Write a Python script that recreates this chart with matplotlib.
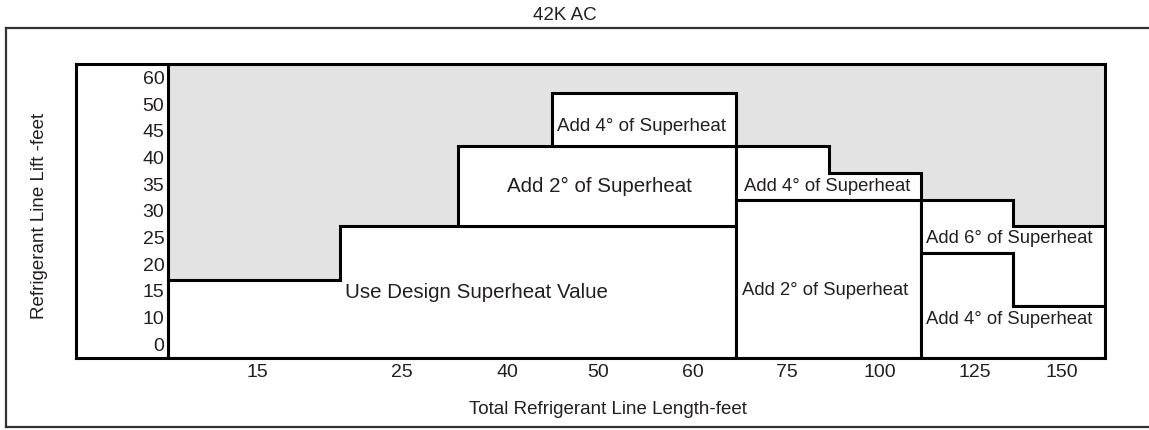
import matplotlib
matplotlib.use("Agg")
import matplotlib.pyplot as plt
from matplotlib.lines import Line2D

plt.rcParams['font.family'] = ['Liberation Sans', 'DejaVu Sans']

# ---- data (diagram in column units / row-index units) ----
title = "42K AC"
x_label = "Total Refrigerant Line Length-feet"
y_label = "Refrigerant Line Lift -feet"
x_tick_labels = ['15', '25', '40', '50', '60', '75', '100', '125', '150']
x_tick_pos = [0.95, 2.50, 3.62, 4.59, 5.60, 6.61, 7.60, 8.61, 9.54]
y_tick_labels = ['0', '10', '15', '20', '25', '30', '35', '40', '45', '50', '60']

Y_BOT = -0.42
Y_TOP = 10.58
X_RIGHT = 10.0

# zones: list of segments (x0, x1, y0, y1)
zone_use_design = [(0.0, 1.84, Y_BOT, 2.5), (1.84, 6.06, Y_BOT, 4.5)]
zone_add2_mid = [(3.10, 6.06, 4.5, 7.5)]
zone_add4_top = [(4.10, 6.06, 7.5, 9.5)]
zone_add4_right = [(6.06, 7.05, 5.5, 7.5), (7.05, 8.04, 5.5, 6.5)]
zone_add2_right = [(6.06, 8.04, Y_BOT, 5.5)]
zone_add6 = [(8.04, 9.02, 3.5, 5.5), (9.02, X_RIGHT, 1.5, 4.5)]
zone_add4_far = [(8.04, 9.02, Y_BOT, 3.5), (9.02, X_RIGHT, Y_BOT, 1.5)]

zones = [zone_use_design, zone_add2_mid, zone_add4_top, zone_add4_right,
         zone_add2_right, zone_add6, zone_add4_far]
zone_labels = ["Use Design Superheat Value", "Add 2° of Superheat",
               "Add 4° of Superheat", "Add 4° of Superheat",
               "Add 2° of Superheat", "Add 6° of Superheat",
               "Add 4° of Superheat"]
label_x = [3.29, 4.60, 5.05, 7.03, 7.01, 8.98, 8.98]
label_y = [2.0, 6.0, 8.24, 6.0, 2.1, 4.04, 1.01]
label_size = [14.8, 14.8, 13.5, 13.3, 13.3, 13.3, 13.3]

TXT = '#231f20'
GRAY = '#e3e3e3'
LW = 2.2

W, H = 1149, 430
fig = plt.figure(figsize=(W / 100, H / 100), dpi=100)

# outer frame
fc = '#363233'
fig.add_artist(Line2D([6 / W, 1.0], [1 - 28 / H, 1 - 28 / H], transform=fig.transFigure, color=fc, lw=1.6))
fig.add_artist(Line2D([6 / W, 1.0], [1 - 427 / H, 1 - 427 / H], transform=fig.transFigure, color=fc, lw=1.6))
fig.add_artist(Line2D([6 / W, 6 / W], [1 - 28 / H, 1 - 427 / H], transform=fig.transFigure, color=fc, lw=1.6))

ax = fig.add_axes([76 / W, 1 - 357.5 / H, (1105 - 76) / W, (357.5 - 64) / H])
ax.set_xlim(-0.982, X_RIGHT)
ax.set_ylim(Y_BOT, Y_TOP)
for s in ax.spines.values():
    s.set_linewidth(LW)
    s.set_color('black')

# gray background of the plot area
ax.fill_between([0, X_RIGHT], Y_BOT, Y_TOP, color=GRAY, lw=0, zorder=1)


def outline(segs):
    xs, ys = [], []
    # top edge left->right
    for x0, x1, y0, y1 in segs:
        xs += [x0, x1]
        ys += [y1, y1]
    # bottom edge right->left
    for x0, x1, y0, y1 in reversed(segs):
        xs += [x1, x0]
        ys += [y0, y0]
    xs.append(xs[0])
    ys.append(ys[0])
    return xs, ys


for segs in zones:
    xs, ys = outline(segs)
    ax.fill(xs, ys, facecolor='white', edgecolor='black', lw=LW, zorder=2,
            joinstyle='miter')

ax.axvline(0, color='black', lw=LW, zorder=3)

for lab, lx, ly, fs in zip(zone_labels, label_x, label_y, label_size):
    ax.text(lx, ly, lab, ha='center', va='center', fontsize=fs, color=TXT, zorder=4)

for i, lab in enumerate(y_tick_labels):
    ax.text(-0.04, i, lab, ha='right', va='center', fontsize=14, color=TXT)

ax.set_yticks([])
ax.set_xticks(x_tick_pos)
ax.set_xticklabels(x_tick_labels, fontsize=14, color=TXT)
ax.tick_params(axis='x', length=0, pad=5)

fig.text(565 / W, 1 - 15 / H, title, ha='center', va='center', fontsize=13.5, color=TXT)
fig.text(608 / W, 1 - 410 / H, x_label, ha='center', va='center', fontsize=13.5, color=TXT)
fig.text(40 / W, 1 - 216 / H, y_label, ha='center', va='center', rotation=90, fontsize=13.5, color=TXT)

fig.savefig('out.png', dpi=100)
